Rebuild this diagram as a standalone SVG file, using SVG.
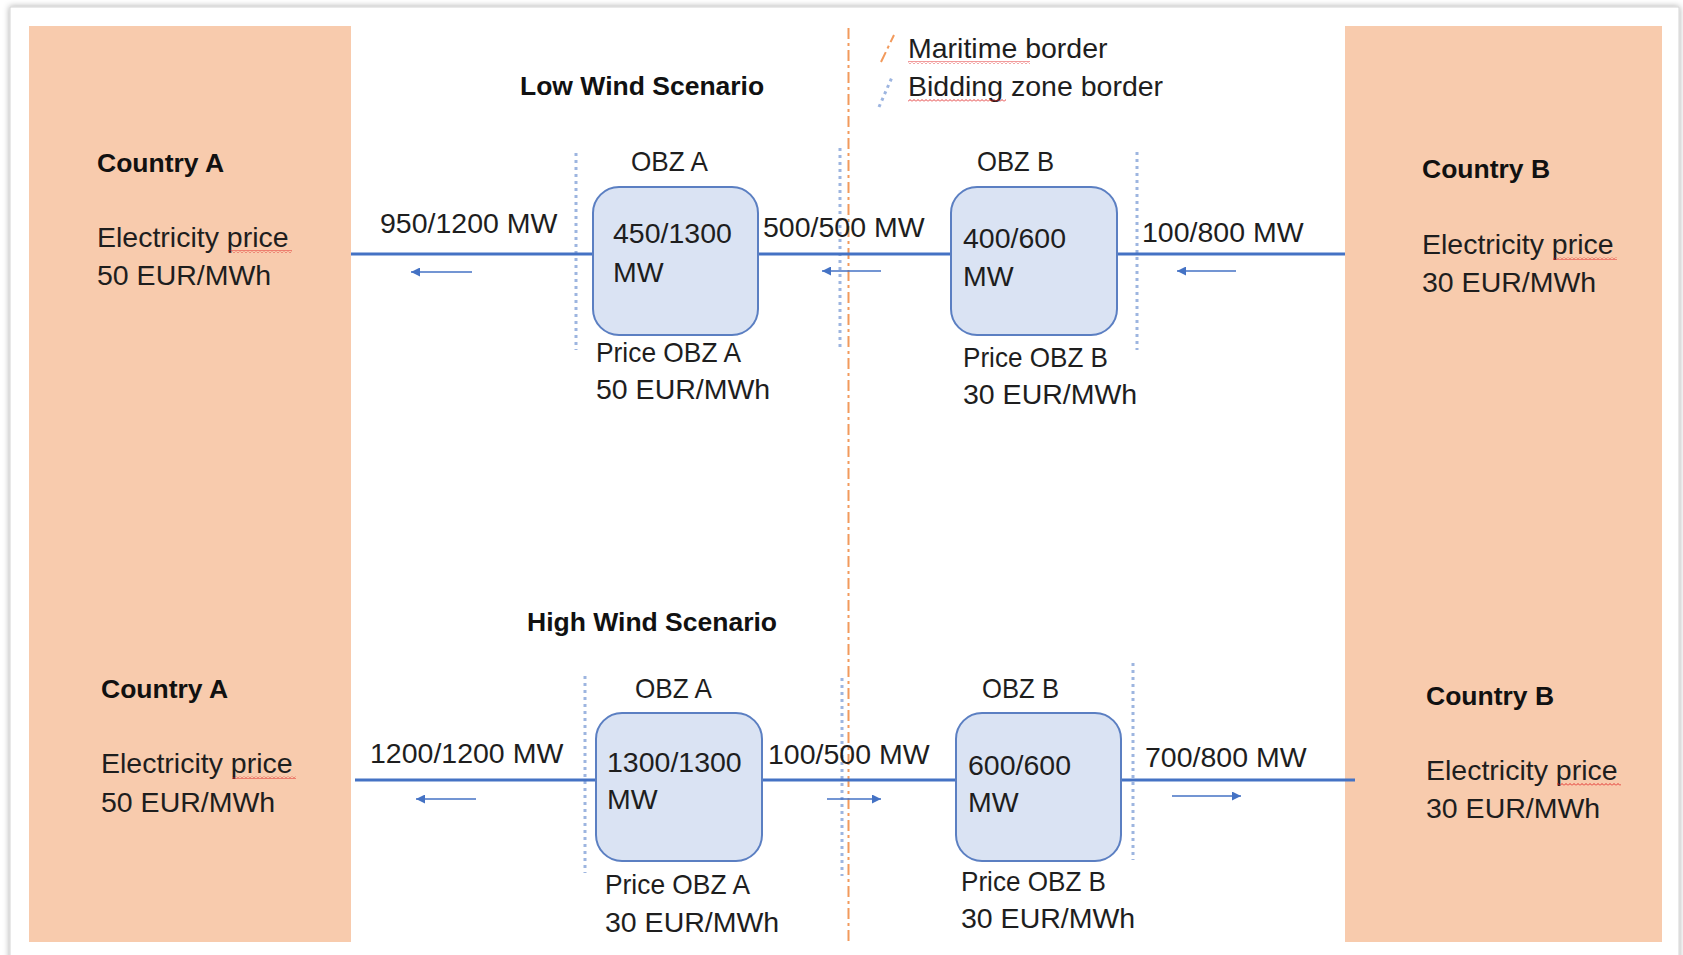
<svg xmlns="http://www.w3.org/2000/svg" width="1683" height="955" viewBox="0 0 1683 955">
<defs>
<style>
.t{font-family:"Liberation Sans",Arial,sans-serif;font-size:28.5px;fill:#1e1e1e}
.b{font-family:"Liberation Sans",Arial,sans-serif;font-size:26.5px;font-weight:bold;fill:#111}
.country{fill:#F8CBAD}
.box{fill:#DAE3F3;stroke:#5B7FC2;stroke-width:2}
.link{stroke:#4472C4;stroke-width:3.2;fill:none}
.flow{stroke:#4472C4;stroke-width:1.6;fill:none;marker-end:url(#ah)}
.bz{stroke:#9DB5E0;stroke-width:3;stroke-dasharray:3 4;fill:none}
.mb{stroke:#F29A5C;stroke-width:2;stroke-dasharray:11 4 3 4;fill:none}
</style>
<marker id="ah" viewBox="0 0 10 10" refX="10" refY="5" markerUnits="userSpaceOnUse" markerWidth="11" markerHeight="9" orient="auto">
<path d="M0,0 L10,5 L0,10 z" fill="#4472C4"/>
</marker>
<pattern id="squig" width="4" height="3" patternUnits="userSpaceOnUse">
<path d="M0,2.5 L2,0.5 L4,2.5" stroke="#E02020" stroke-width="0.9" fill="none"/>
</pattern>
<filter id="sh" x="-5%" y="-5%" width="110%" height="110%">
<feDropShadow dx="0" dy="0" stdDeviation="3" flood-color="#000" flood-opacity="0.35"/>
</filter>
</defs>
<rect x="0" y="0" width="1683" height="955" fill="#fff"/>
<rect id="card" x="10" y="7" width="1669" height="1000" fill="#fff" stroke="#d4d4d4" stroke-width="1" filter="url(#sh)"/>

<g id="country-a">
<rect class="country" x="29" y="26" width="322" height="916"/>
<text class="b" x="97" y="172">Country A</text>
<text class="t" x="97" y="247">Electricity price</text>
<text class="t" x="97" y="285">50 EUR/MWh</text>
<rect x="228" y="250" width="64" height="3" fill="url(#squig)"/>
<text class="b" x="101" y="698">Country A</text>
<text class="t" x="101" y="773">Electricity price</text>
<text class="t" x="101" y="812">50 EUR/MWh</text>
<rect x="232" y="776" width="64" height="3" fill="url(#squig)"/>
</g>

<g id="country-b">
<rect class="country" x="1345" y="26" width="317" height="916"/>
<text class="b" x="1422" y="178">Country B</text>
<text class="t" x="1422" y="254">Electricity price</text>
<text class="t" x="1422" y="292">30 EUR/MWh</text>
<rect x="1553" y="257" width="64" height="3" fill="url(#squig)"/>
<text class="b" x="1426" y="705">Country B</text>
<text class="t" x="1426" y="780">Electricity price</text>
<text class="t" x="1426" y="818">30 EUR/MWh</text>
<rect x="1557" y="783" width="64" height="3" fill="url(#squig)"/>
</g>

<g id="borders">
<line class="mb" x1="848.5" y1="28" x2="848.5" y2="942"/>
<line class="bz" x1="576" y1="153" x2="576" y2="350"/>
<line class="bz" x1="840" y1="148" x2="840" y2="347"/>
<line class="bz" x1="1137" y1="152" x2="1137" y2="350"/>
<line class="bz" x1="585" y1="676" x2="585" y2="873"/>
<line class="bz" x1="842" y1="678" x2="842" y2="876"/>
<line class="bz" x1="1133" y1="663" x2="1133" y2="860"/>
</g>

<g id="connectors">
<line class="link" x1="351" y1="254" x2="593" y2="254"/>
<line class="link" x1="758" y1="254" x2="951" y2="254"/>
<line class="link" x1="1117" y1="254" x2="1345" y2="254"/>
<line class="link" x1="355" y1="780" x2="596" y2="780"/>
<line class="link" x1="762" y1="780" x2="956" y2="780"/>
<line class="link" x1="1121" y1="780" x2="1355" y2="780"/>
<line class="flow" x1="472" y1="272" x2="411" y2="272"/>
<line class="flow" x1="881" y1="271" x2="822" y2="271"/>
<line class="flow" x1="1236" y1="271" x2="1177" y2="271"/>
<line class="flow" x1="476" y1="799" x2="416" y2="799"/>
<line class="flow" x1="827" y1="799" x2="881" y2="799"/>
<line class="flow" x1="1172" y1="796" x2="1241" y2="796"/>
</g>

<g id="obz-a-low">
<text class="t" x="631" y="171" textLength="77" lengthAdjust="spacingAndGlyphs">OBZ A</text>
<rect class="box" x="593" y="187" width="165" height="148" rx="26"/>
<text class="t" x="613" y="243">450/1300</text>
<text class="t" x="613" y="282">MW</text>
<text class="t" x="596" y="362" textLength="145" lengthAdjust="spacingAndGlyphs">Price OBZ A</text>
<text class="t" x="596" y="399">50 EUR/MWh</text>
</g>

<g id="obz-b-low">
<text class="t" x="977" y="171" textLength="77" lengthAdjust="spacingAndGlyphs">OBZ B</text>
<rect class="box" x="951" y="187" width="166" height="148" rx="26"/>
<text class="t" x="963" y="248">400/600</text>
<text class="t" x="963" y="286">MW</text>
<text class="t" x="963" y="367" textLength="145" lengthAdjust="spacingAndGlyphs">Price OBZ B</text>
<text class="t" x="963" y="404">30 EUR/MWh</text>
</g>

<g id="obz-a-high">
<text class="t" x="635" y="698" textLength="77" lengthAdjust="spacingAndGlyphs">OBZ A</text>
<rect class="box" x="596" y="713" width="166" height="148" rx="26"/>
<text class="t" x="607" y="772">1300/1300</text>
<text class="t" x="607" y="809">MW</text>
<text class="t" x="605" y="894" textLength="145" lengthAdjust="spacingAndGlyphs">Price OBZ A</text>
<text class="t" x="605" y="932">30 EUR/MWh</text>
</g>

<g id="obz-b-high">
<text class="t" x="982" y="698" textLength="77" lengthAdjust="spacingAndGlyphs">OBZ B</text>
<rect class="box" x="956" y="713" width="165" height="148" rx="26"/>
<text class="t" x="968" y="775">600/600</text>
<text class="t" x="968" y="812">MW</text>
<text class="t" x="961" y="891" textLength="145" lengthAdjust="spacingAndGlyphs">Price OBZ B</text>
<text class="t" x="961" y="928">30 EUR/MWh</text>
</g>

<g id="labels">
<text class="b" x="520" y="95">Low Wind Scenario</text>
<text class="b" x="527" y="631">High Wind Scenario</text>
<text class="t" x="380" y="233">950/1200 MW</text>
<text class="t" x="763" y="237">500/500 MW</text>
<text class="t" x="1142" y="242">100/800 MW</text>
<text class="t" x="370" y="763">1200/1200 MW</text>
<text class="t" x="768" y="764">100/500 MW</text>
<text class="t" x="1145" y="767">700/800 MW</text>
</g>

<g id="legend">
<line class="mb" x1="881" y1="62" x2="894" y2="35" stroke-dasharray="6 3"/>
<line class="bz" x1="879" y1="107" x2="892.5" y2="76" stroke-dasharray="3 3"/>
<text class="t" x="908" y="58">Maritime border</text>
<text class="t" x="908" y="96">Bidding zone border</text>
<rect x="908" y="61" width="122" height="3" fill="url(#squig)"/>
<rect x="908" y="99" width="98" height="3" fill="url(#squig)"/>
</g>
</svg>
